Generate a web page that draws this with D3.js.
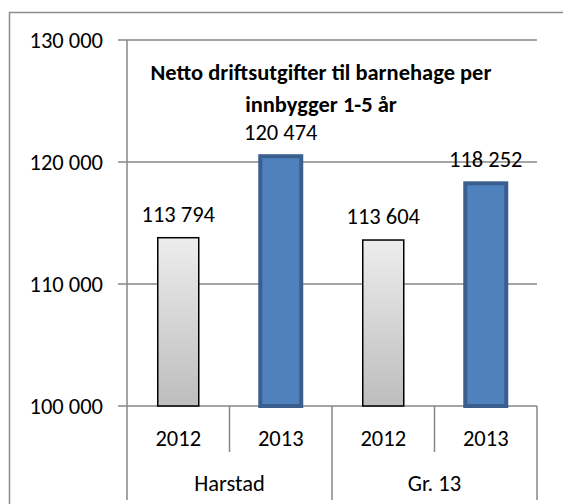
<!DOCTYPE html>
<html>
<head>
<meta charset="utf-8">
<script src="https://cdn.jsdelivr.net/npm/d3@7"></script>
<style>
    body { margin: 0; background: #fff; overflow: hidden; }
    svg { display: block; }
    text { font-family: Calibri, Carlito, "Open Sans", sans-serif; fill: #000; }
</style>
</head>
<body>
<svg id="chart" width="563" height="504"></svg>
<script>
// chart data
const groups = ["Harstad", "Gr. 13"];
const years = ["2012", "2013"];
const values = [113794, 120474, 113604, 118252];
const yTicks = [100000, 110000, 120000, 130000];
const title = ["Netto driftsutgifter til barnehage per", "innbygger 1-5 år"];

const rows = [];
groups.forEach(function (g, i) {
    years.forEach(function (y, j) {
        rows.push({group: g, year: y, value: values[i * years.length + j]});
    });
});

const nb = d3.formatLocale({decimal: ",", thousands: " ", grouping: [3], currency: ["", ""]});
const fmt = nb.format(",d");

const svg = d3.select("#chart");
const plotLeft = 127, plotRight = 537, plotTop = 40, plotBottom = 406;
const gridColor = "#878787";
const fontSize = "22.5px";

// outer chart border
svg.append("rect")
    .attr("x", 9.5).attr("y", 12.5)
    .attr("width", 600).attr("height", 600)
    .attr("fill", "none")
    .attr("stroke", "#8c8c8c")
    .attr("stroke-width", 1.5);

const y = d3.scaleLinear().domain([100000, 130000]).range([plotBottom, plotTop]);
const x0 = d3.scaleBand().domain(groups).range([plotLeft, plotRight]).padding(0);
const x1 = d3.scaleBand().domain(years).range([0, x0.bandwidth()])
    .paddingInner(0.6).paddingOuter(0.3);

// gridlines
svg.append("g")
    .selectAll("line")
    .data(yTicks)
    .enter()
    .append("line")
    .attr("x1", plotLeft - 9)
    .attr("x2", plotRight)
    .attr("y1", function (d) { return y(d); })
    .attr("y2", function (d) { return y(d); })
    .attr("stroke", gridColor)
    .attr("stroke-width", 1.5);

// y axis
const yAxis = svg.append("g")
    .attr("transform", "translate(" + plotLeft + ",0)")
    .call(d3.axisLeft(y).tickValues(yTicks).tickFormat(fmt).tickSize(0).tickPadding(24));
yAxis.select(".domain").remove();
yAxis.selectAll("text").style("font-size", fontSize).attr("dy", "0.35em");

svg.append("line")
    .attr("x1", plotLeft).attr("x2", plotLeft)
    .attr("y1", plotTop).attr("y2", 500)
    .attr("stroke", gridColor).attr("stroke-width", 1.5);

// category separators
const cats = svg.append("g");
rows.forEach(function (d) {
    const xr = x0(d.group) + x1.step() * (years.indexOf(d.year) + 1);
    const isGroupEnd = years.indexOf(d.year) === years.length - 1;
    cats.append("line")
        .attr("x1", xr).attr("x2", xr)
        .attr("y1", plotBottom).attr("y2", isGroupEnd ? 500 : 452)
        .attr("stroke", gridColor).attr("stroke-width", 1.5);
});

// gradient for the 2012 bars
const grad = svg.append("defs").append("linearGradient")
    .attr("id", "grayGrad")
    .attr("x1", 0).attr("y1", 0).attr("x2", 0).attr("y2", 1);
grad.append("stop").attr("offset", "0%").attr("stop-color", "#ededed");
grad.append("stop").attr("offset", "100%").attr("stop-color", "#bdbdbd");

const bars = svg.append("g")
    .selectAll("g")
    .data(rows)
    .enter()
    .append("g");

bars.append("rect")
    .attr("x", function (d) { return x0(d.group) + x1(d.year); })
    .attr("y", function (d) { return y(d.value); })
    .attr("width", x1.bandwidth())
    .attr("height", function (d) { return plotBottom - y(d.value); })
    .attr("fill", function (d) { return d.year === "2012" ? "url(#grayGrad)" : "#4f81bd"; })
    .attr("stroke", function (d) { return d.year === "2012" ? "#000" : "#3a5f8f"; })
    .attr("stroke-width", function (d) { return d.year === "2012" ? 1.5 : 4; });

bars.append("text")
    .attr("x", function (d) { return x0(d.group) + x1(d.year) + x1.bandwidth() / 2; })
    .attr("y", function (d) { return y(d.value) - 16; })
    .attr("text-anchor", "middle")
    .style("font-size", fontSize)
    .text(function (d) { return fmt(d.value); });

// year labels
svg.append("g")
    .selectAll("text")
    .data(rows)
    .enter()
    .append("text")
    .attr("x", function (d) { return x0(d.group) + x1(d.year) + x1.bandwidth() / 2; })
    .attr("y", 446)
    .attr("text-anchor", "middle")
    .style("font-size", fontSize)
    .text(function (d) { return d.year; });

// group labels
svg.append("g")
    .selectAll("text")
    .data(groups)
    .enter()
    .append("text")
    .attr("x", function (d) { return x0(d) + x0.bandwidth() / 2; })
    .attr("y", 491)
    .attr("text-anchor", "middle")
    .style("font-size", fontSize)
    .text(function (d) { return d; });

// title
svg.append("g")
    .selectAll("text")
    .data(title)
    .enter()
    .append("text")
    .attr("x", 321)
    .attr("y", function (d, i) { return 80 + i * 32; })
    .attr("text-anchor", "middle")
    .style("font-size", "22.5px")
    .style("font-weight", "bold")
    .text(function (d) { return d; });
</script>
</body>
</html>
